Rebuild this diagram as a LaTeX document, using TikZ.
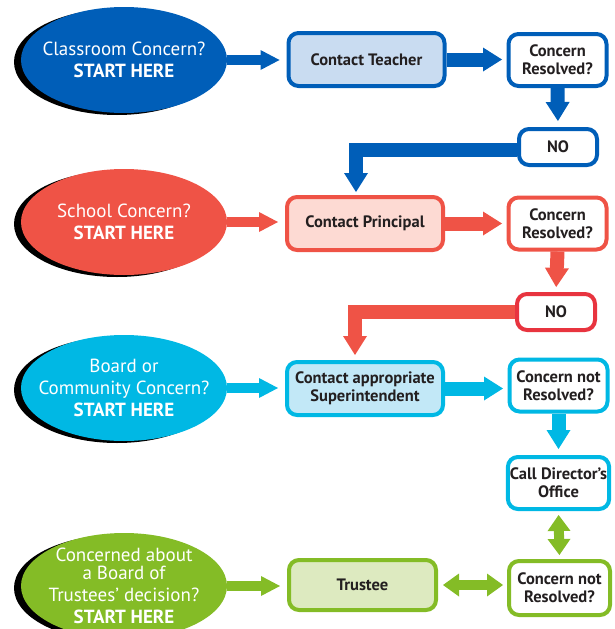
\documentclass[tikz,border=0pt]{standalone}
\usepackage{fontspec}
\setmainfont{PT Sans}
\usetikzlibrary{
  shapes.geometric,
  positioning,
  arrows.meta,
  shadows
}
\definecolor{ink}{HTML}{231F20}
\definecolor{cblue}{HTML}{005EB8}
\definecolor{cbluelt}{HTML}{C9DCF1}
\definecolor{cred}{HTML}{EF5346}
\definecolor{credno}{HTML}{E8343F}
\definecolor{credlt}{HTML}{FDDAD3}
\definecolor{ccyan}{HTML}{00B8E4}
\definecolor{ccyanlt}{HTML}{C2E8F7}
\definecolor{cgreen}{HTML}{84BC26}
\definecolor{cgreenlt}{HTML}{DDEAC0}

\begin{document}
\begin{tikzpicture}[x=1pt, y=-1pt,
  start/.style={ellipse, fill=#1, minimum width=206pt, minimum height=106pt, inner sep=-20pt,
    align=center, text=white, font=\fontsize{19}{22}\selectfont,
    general shadow={fill=black, shadow xshift=-7pt, shadow yshift=-2pt}},
  act/.style={rectangle, rounded corners=10pt, draw=#1, line width=4pt, text=ink, align=center,
    minimum width=156pt, minimum height=53pt, inner sep=2pt, font=\bfseries\fontsize{16.5}{18}\selectfont},
  ask/.style={act=#1, fill=white, minimum width=98pt, minimum height=52pt},
  feed/.style={draw=#1, line width=10pt, -{Triangle[width=20pt, length=19pt, line width=0pt]}, shorten >=7pt},
  pass/.style={draw=#1, line width=14pt, -{Triangle[width=24pt, length=19pt, line width=0pt]}},
  both/.style={draw=#1, line width=10pt, {Triangle[width=23pt, length=16pt, line width=0pt]}-{Triangle[width=23pt, length=16pt, line width=0pt]}}
]
\useasboundingbox (0,0) rectangle (614,629);
\clip (0,0) rectangle (614,629);

% classroom
\node[start=cblue] (c1) at (124,60) {Classroom Concern?\\\textbf{START HERE}};
\node[act=cblue, fill=cbluelt] (t1) at (366.5,59.5) {Contact Teacher};
\node[ask=cblue] (q1) at (557.5,60) {Concern\\Resolved?};
\node[ask=cblue, minimum width=78pt, minimum height=36pt] (n1) at (558,147) {NO};

% school
\node[start=cred] (c2) at (124,222) {School Concern?\\\textbf{START HERE}};
\node[act=cred, fill=credlt] (p2) at (365,223.5) {Contact Principal};
\node[ask=cred] (q2) at (557.5,223.5) {Concern\\Resolved?};
\node[ask=credno, minimum width=78pt, minimum height=36pt] (n2) at (556,312) {NO};

% board or community
\node[start=ccyan] (c3) at (124,388) {Board or\\Community Concern?\\\textbf{START HERE}};
\node[act=ccyan, fill=ccyanlt] (s3) at (365,388.5) {Contact appropriate\\Superintendent};
\node[ask=ccyan] (q3) at (558.5,385.5) {Concern not\\Resolved?};
\node[ask=ccyan] (d3) at (558.5,483) {Call Director’s\\Office};

% trustees
\node[start=cgreen] (c4) at (124,586) {Concerned about\\[-4pt]a Board of\\Trustees’ decision?\\\textbf{START HERE}};
\node[act=cgreen, fill=cgreenlt, minimum width=147pt, minimum height=50pt] (r4) at (362.5,585) {Trustee};
\node[ask=cgreen, minimum width=101pt, minimum height=54pt] (q4) at (559.5,588) {Concern not\\Resolved?};

\draw[feed=cblue] (c1.east) -- (c1.east -| t1.west);
\draw[pass=cblue, shorten >=4.5pt] (t1.east) -- (t1.east -| q1.west);
\draw[pass=cblue, shorten >=6pt] (q1.south) -- (n1.north);
\draw[pass=cblue, shorten >=3pt] ([yshift=-3pt]n1.west) -| ([xshift=-9pt]p2.north);

\draw[feed=cred] (c2.east) -- (c2.east -| p2.west);
\draw[pass=cred, shorten >=4.5pt] (p2.east) -- (p2.east -| q2.west);
\draw[pass=cred, shorten >=5pt] (q2.south) -- (n2.north);
\draw[pass=cred, shorten >=5pt] (n2.west) -| ([xshift=-10pt]s3.north);

\draw[feed=ccyan] (c3.east) -- (c3.east -| s3.west);
\draw[pass=ccyan, shorten >=4.5pt] (s3.east) -- (s3.east -| q3.west);
\draw[pass=ccyan, shorten >=6pt] (q3.south) -- (d3.north);

\draw[feed=cgreen] (c4.east) -- (c4.east -| r4.west);
\draw[both=cgreen, shorten <=4pt, shorten >=4pt] (d3.south) -- (q4.north);
\draw[both=cgreen, shorten <=5pt, shorten >=4pt] (r4.east) -- (r4.east -| q4.west);
\end{tikzpicture}
\end{document}
